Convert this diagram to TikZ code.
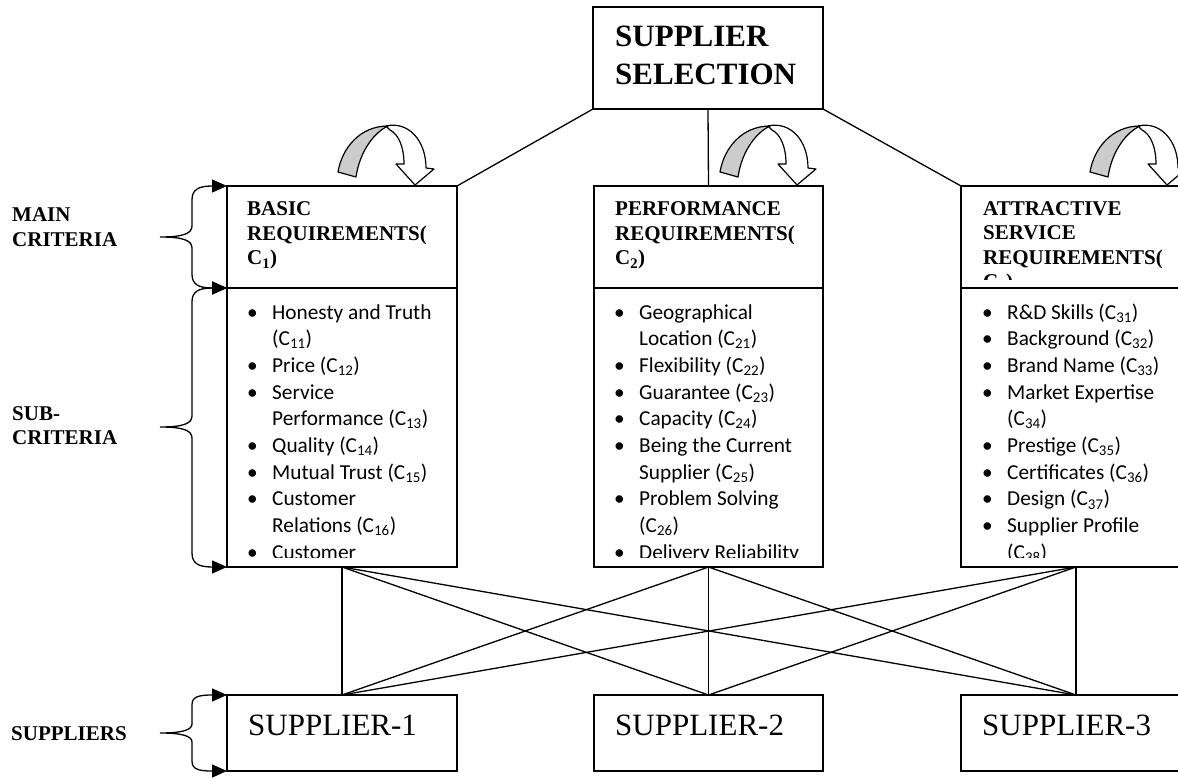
\documentclass[tikz,border=0pt]{standalone}
\usepackage{fontspec}
\setmainfont{Liberation Serif}
\newfontfamily\listfont{Carlito}
\usetikzlibrary{arrows.meta}
\newcommand\bitem{\makebox[25pt][l]{\textbullet}}
\newcommand\bcont{\hspace*{25pt}}
\newcommand\cc[1]{(C\textsubscript{#1})}
\begin{document}
\begin{tikzpicture}[x=1pt,y=-1pt,
  box/.style={draw, line width=1.4pt, inner sep=0pt, outer sep=0pt, anchor=north west},
  link/.style={line width=1.3pt},
  brace/.style={line width=1.3pt, {Triangle[length=15pt,width=13pt]}-{Triangle[length=15pt,width=13pt]}},
  lbl/.style={font=\fontsize{21}{24.5}\selectfont\bfseries, anchor=base west, inner sep=0pt},
  big/.style={font=\fontsize{31}{38}\selectfont\bfseries, anchor=base west, inner sep=0pt},
  sup/.style={font=\fontsize{31}{38}\selectfont, anchor=base west, inner sep=0pt},
  lst/.style={font=\listfont\fontsize{21.3}{26.7}\selectfont, anchor=base west, inner sep=0pt},
  turn/.pic={
    \filldraw[fill=white, line width=1.2pt, line join=round]
      (386,126) .. controls (408,121) and (426,140) .. (426,168) -- (434,169) -- (415,185)
      -- (396,164) -- (404,164) .. controls (404,146) and (398,134) .. (390,130) -- cycle;
    \filldraw[fill=gray!40, line width=1.2pt, line join=round]
      (338,172) .. controls (342,148) and (360,126) .. (388,126)
      .. controls (375,132) and (360,150) .. (356,177) -- cycle;
  }
]
\useasboundingbox (0,0) rectangle (1178,778);

% boxes
\node[box, minimum width=230pt, minimum height=102pt] (top) at (593,7) {};
\node[box, minimum width=230pt, minimum height=102pt] (h1) at (227,186) {};
\node[box, minimum width=230pt, minimum height=279pt] (l1) at (227,288) {};
\node[box, minimum width=229pt, minimum height=102pt] (h2) at (594,186) {};
\node[box, minimum width=229pt, minimum height=279pt] (l2) at (594,288) {};
\node[box, minimum width=230pt, minimum height=102pt] (h3) at (961,186) {};
\node[box, minimum width=230pt, minimum height=279pt] (l3) at (961,288) {};
\node[box, minimum width=230pt, minimum height=76pt] (s1) at (227,695) {};
\node[box, minimum width=229pt, minimum height=76pt] (s2) at (594,695) {};
\node[box, minimum width=230pt, minimum height=76pt] (s3) at (961,695) {};

% texts
\node[big] (topt) at (615,47) {\parbox[t]{250pt}{SUPPLIER\\SELECTION}};
\node[sup] (s1t) at (248,735) {SUPPLIER-1};
\node[sup] (s2t) at (615,735) {SUPPLIER-2};
\node[sup] (s3t) at (982,735) {SUPPLIER-3};
\node[lbl] (mainl) at (12,222) {\parbox[t]{200pt}{MAIN\\CRITERIA}};
\node[lbl] (subl) at (12,420) {\parbox[t]{200pt}{SUB-\\CRITERIA}};
\node[lbl] (supl) at (11,740) {SUPPLIERS};

\begin{scope}
\clip (227,186) rectangle (457,280);
\node[lbl] (h1t) at (247,216) {\parbox[t]{300pt}{BASIC\\REQUIREMENTS(\\C\textsubscript{1})}};
\end{scope}
\begin{scope}
\clip (594,186) rectangle (823,280);
\node[lbl] (h2t) at (615,216) {\parbox[t]{300pt}{PERFORMANCE\\REQUIREMENTS(\\C\textsubscript{2})}};
\end{scope}
\begin{scope}
\clip (961,186) rectangle (1191,279);
\node[lbl] (h3t) at (983,215) {\parbox[t]{300pt}{ATTRACTIVE\\SERVICE\\REQUIREMENTS(\\C\textsubscript{3})}};
\end{scope}

\begin{scope}
\clip (227,288) rectangle (457,557);
\node[lst] (l1t) at (247,319) {\parbox[t]{300pt}{%
\bitem Honesty and Truth\\
\bcont \cc{11}\\
\bitem Price \cc{12}\\
\bitem Service\\
\bcont Performance \cc{13}\\
\bitem Quality \cc{14}\\
\bitem Mutual Trust \cc{15}\\
\bitem Customer\\
\bcont Relations \cc{16}\\
\bitem Customer}};
\end{scope}
\begin{scope}
\clip (594,288) rectangle (823,557);
\node[lst] (l2t) at (614,319) {\parbox[t]{300pt}{%
\bitem Geographical\\
\bcont Location \cc{21}\\
\bitem Flexibility \cc{22}\\
\bitem Guarantee \cc{23}\\
\bitem Capacity \cc{24}\\
\bitem Being the Current\\
\bcont Supplier \cc{25}\\
\bitem Problem Solving\\
\bcont \cc{26}\\
\bitem Delivery Reliability}};
\end{scope}
\begin{scope}
\clip (961,288) rectangle (1191,557);
\node[lst] (l3t) at (982,319) {\parbox[t]{300pt}{%
\bitem R\&D Skills \cc{31}\\
\bitem Background \cc{32}\\
\bitem Brand Name \cc{33}\\
\bitem Market Expertise\\
\bcont \cc{34}\\
\bitem Prestige \cc{35}\\
\bitem Certificates \cc{36}\\
\bitem Design \cc{37}\\
\bitem Supplier Profile\\
\bcont \cc{38}}};
\end{scope}

% top connectors
\draw[link] (top.south west) -- (h1.north east);
\draw[link] (top.south) -- (h2.north);
\draw[link] (top.south east) -- (h3.north west);

% criteria to suppliers
\foreach \a in {l1,l2,l3}{
  \foreach \b in {s1,s2,s3}{
    \draw[link] (\a.south) -- (\b.north);
  }
}

% curved arrows
\pic at (0,0) {turn};
\pic at (382,0) {turn};
\pic at (752,0) {turn};

% braces
\draw[brace] (h1.north west) -- (212,186) .. controls (198,186) and (192,190) .. (192,200) -- (192,226)
  .. controls (192,234) and (182,237) .. (160,237) .. controls (182,237) and (192,240) .. (192,248)
  -- (192,274) .. controls (192,284) and (198,288) .. (212,288) -- (h1.south west);
\draw[brace] (l1.north west) -- (212,288) .. controls (198,288) and (192,292) .. (192,302) -- (192,416)
  .. controls (192,424) and (182,427) .. (160,427) .. controls (182,427) and (192,430) .. (192,438)
  -- (192,553) .. controls (192,563) and (198,567) .. (212,567) -- (l1.south west);
\draw[brace] (s1.north west) -- (212,695) .. controls (198,695) and (192,697) .. (192,705) -- (192,724)
  .. controls (192,730) and (182,733) .. (160,733) .. controls (182,733) and (192,736) .. (192,742)
  -- (192,761) .. controls (192,769) and (198,771) .. (212,771) -- (s1.south west);
\end{tikzpicture}
\end{document}
